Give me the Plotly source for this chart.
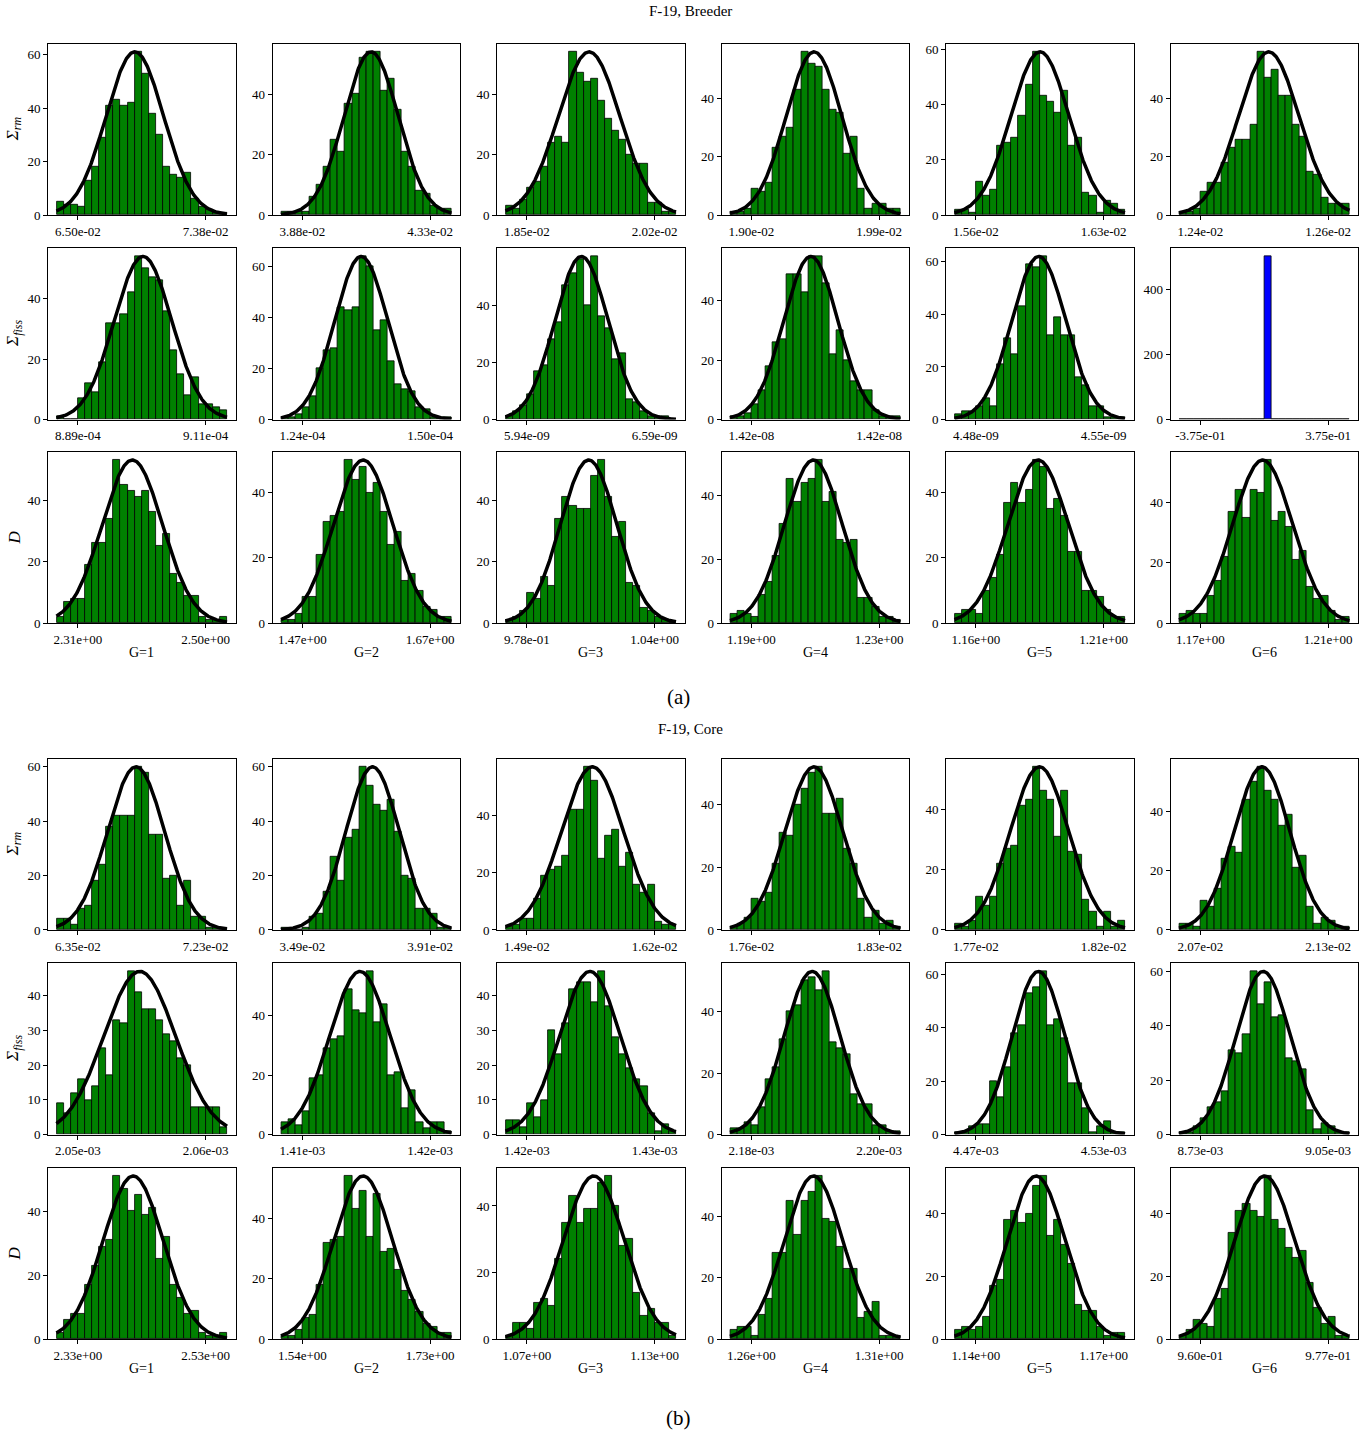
import numpy as np
import plotly.graph_objects as go

N_BINS = 24
GROUPS = ["G=1", "G=2", "G=3", "G=4", "G=5", "G=6"]

# ---- F-19, Breeder: histogram counts per energy group ----
breeder_sigma_rm = [
    [5, 4, 4, 3, 13, 18, 29, 41, 43, 41, 42, 61, 53, 38, 30, 18, 15, 14, 16, 6, 3, 2, 1, 1],
    [1, 1, 1, 1, 6, 10, 16, 25, 21, 37, 40, 52, 54, 54, 41, 45, 35, 21, 16, 8, 7, 3, 2, 2],
    [3, 2, 5, 9, 11, 16, 24, 26, 24, 54, 47, 44, 45, 38, 32, 28, 25, 20, 17, 17, 4, 4, 1, 1],
    [1, 1, 2, 9, 8, 11, 23, 27, 30, 43, 56, 52, 51, 43, 36, 35, 21, 27, 9, 2, 4, 4, 2, 2],
    [2, 2, 1, 12, 7, 9, 25, 26, 28, 36, 47, 59, 43, 41, 37, 45, 25, 28, 8, 7, 1, 5, 4, 2],
    [1, 1, 2, 8, 11, 11, 18, 23, 26, 26, 31, 56, 47, 50, 41, 41, 31, 27, 15, 14, 6, 4, 4, 4],
]
breeder_sigma_fiss = [
    [1, 0, 0, 7, 12, 9, 19, 32, 32, 35, 42, 54, 50, 47, 46, 36, 23, 15, 8, 14, 5, 5, 4, 3],
    [1, 1, 2, 5, 9, 20, 27, 28, 44, 43, 44, 64, 60, 35, 39, 23, 14, 12, 11, 5, 4, 1, 1, 1],
    [1, 3, 5, 9, 17, 19, 28, 34, 47, 51, 56, 40, 57, 36, 32, 21, 23, 7, 6, 3, 1, 1, 1, 0],
    [1, 1, 2, 5, 10, 18, 26, 27, 49, 49, 43, 55, 55, 46, 22, 30, 20, 13, 10, 10, 3, 1, 1, 1],
    [2, 3, 3, 5, 8, 5, 21, 31, 25, 43, 59, 58, 62, 32, 39, 32, 32, 16, 13, 5, 5, 1, 1, 1],
    [0, 0, 0, 0, 0, 0, 0, 0, 0, 0, 0, 0, 500, 0, 0, 0, 0, 0, 0, 0, 0, 0, 0, 0],
]
breeder_d = [
    [2, 7, 8, 8, 19, 26, 26, 34, 53, 45, 43, 41, 43, 36, 25, 29, 16, 13, 9, 9, 2, 1, 1, 2],
    [1, 1, 3, 8, 8, 21, 31, 33, 34, 50, 44, 48, 40, 43, 34, 24, 28, 13, 15, 10, 5, 4, 2, 2],
    [1, 2, 4, 10, 8, 15, 12, 34, 41, 38, 37, 37, 48, 53, 41, 28, 33, 13, 12, 5, 4, 2, 1, 0],
    [3, 4, 3, 2, 9, 13, 21, 31, 45, 38, 44, 45, 51, 38, 41, 26, 25, 26, 8, 8, 5, 2, 2, 1],
    [3, 4, 4, 3, 10, 14, 21, 37, 43, 37, 41, 50, 48, 35, 38, 33, 22, 22, 10, 10, 8, 4, 2, 2],
    [3, 4, 3, 3, 9, 14, 22, 37, 44, 35, 44, 43, 54, 34, 37, 32, 21, 24, 12, 8, 9, 4, 1, 2],
]

# ---- F-19, Core ----
core_sigma_rm = [
    [4, 4, 2, 8, 9, 18, 24, 38, 42, 42, 42, 60, 58, 35, 35, 19, 20, 9, 18, 5, 5, 1, 1, 1],
    [1, 1, 0, 1, 5, 6, 14, 27, 18, 34, 37, 60, 53, 46, 44, 48, 36, 20, 19, 8, 8, 6, 1, 1],
    [1, 2, 4, 4, 11, 19, 21, 22, 26, 42, 42, 57, 52, 25, 33, 35, 22, 27, 16, 13, 16, 3, 2, 2],
    [1, 2, 4, 10, 9, 12, 21, 31, 30, 40, 45, 50, 52, 37, 37, 42, 26, 21, 10, 4, 6, 2, 3, 1],
    [2, 1, 3, 11, 8, 11, 22, 27, 28, 41, 43, 54, 46, 43, 31, 46, 26, 25, 10, 6, 1, 6, 1, 3],
    [2, 2, 1, 10, 8, 14, 24, 28, 26, 44, 50, 55, 47, 44, 35, 39, 21, 25, 8, 2, 4, 3, 1, 1],
]
core_sigma_fiss = [
    [9, 6, 12, 16, 10, 14, 25, 17, 33, 32, 47, 41, 36, 36, 33, 29, 27, 22, 20, 8, 8, 8, 8, 2],
    [4, 5, 3, 8, 19, 20, 29, 32, 33, 49, 42, 41, 55, 38, 44, 20, 21, 9, 15, 4, 2, 4, 4, 1],
    [4, 4, 2, 9, 5, 10, 30, 23, 32, 42, 44, 44, 38, 47, 37, 28, 23, 19, 16, 14, 6, 1, 3, 1],
    [2, 2, 4, 3, 9, 18, 22, 31, 40, 42, 50, 51, 47, 53, 30, 28, 26, 13, 10, 10, 3, 3, 1, 1],
    [1, 1, 3, 4, 4, 20, 14, 25, 38, 41, 53, 55, 61, 41, 43, 36, 19, 19, 10, 1, 3, 5, 1, 1],
    [1, 1, 3, 6, 10, 12, 16, 31, 30, 37, 60, 48, 56, 43, 44, 28, 27, 24, 9, 2, 4, 3, 1, 1],
]
core_d = [
    [2, 6, 8, 8, 17, 23, 29, 31, 51, 47, 40, 45, 39, 41, 25, 32, 17, 13, 8, 9, 2, 1, 1, 2],
    [1, 1, 3, 7, 8, 18, 32, 33, 34, 54, 43, 49, 34, 48, 29, 30, 23, 16, 13, 9, 5, 4, 2, 2],
    [1, 5, 5, 3, 11, 12, 10, 24, 35, 43, 35, 39, 39, 47, 49, 40, 28, 30, 14, 7, 9, 5, 5, 1],
    [3, 4, 4, 1, 8, 13, 28, 28, 45, 34, 45, 48, 53, 39, 38, 30, 23, 23, 7, 9, 12, 1, 1, 1],
    [3, 4, 3, 4, 7, 17, 19, 38, 41, 37, 40, 49, 52, 33, 38, 30, 24, 11, 9, 9, 4, 1, 2, 2],
    [1, 3, 6, 5, 4, 13, 16, 34, 41, 43, 41, 39, 52, 38, 35, 29, 26, 28, 18, 10, 5, 7, 1, 1],
]

# ---- x tick values (sit at 1/8 and 7/8 of each histogram's range) ----
breeder_sigma_rm_ticks = [(6.50e-2, 7.38e-2), (3.88e-2, 4.33e-2), (1.85e-2, 2.02e-2),
                          (1.90e-2, 1.99e-2), (1.56e-2, 1.63e-2), (1.24e-2, 1.26e-2)]
breeder_sigma_fiss_ticks = [(8.89e-4, 9.11e-4), (1.24e-4, 1.50e-4), (5.94e-9, 6.59e-9),
                            (1.4176e-8, 1.4224e-8), (4.48e-9, 4.55e-9), (-3.75e-1, 3.75e-1)]
breeder_d_ticks = [(2.31, 2.50), (1.47, 1.67), (0.978, 1.04),
                   (1.19, 1.23), (1.16, 1.21), (1.17, 1.21)]
core_sigma_rm_ticks = [(6.35e-2, 7.23e-2), (3.49e-2, 3.91e-2), (1.49e-2, 1.62e-2),
                       (1.76e-2, 1.83e-2), (1.77e-2, 1.82e-2), (2.07e-2, 2.13e-2)]
core_sigma_fiss_ticks = [(2.05e-3, 2.06e-3), (1.41e-3, 1.42e-3), (1.42e-3, 1.43e-3),
                         (2.18e-3, 2.20e-3), (4.47e-3, 4.53e-3), (8.73e-3, 9.05e-3)]
core_d_ticks = [(2.33, 2.53), (1.54, 1.73), (1.07, 1.13),
                (1.26, 1.31), (1.14, 1.17), (0.960, 0.977)]

ROW_LABELS = ["<i>Σ<sub>rm</sub></i>", "<i>Σ<sub>fiss</sub></i>", "<i>D</i>"]

# ---- page geometry (pixels) ----
W, H = 1364, 1437
COL_X0, COL_STEP, BOX_W = 48.0, 224.5, 187.5
BOX_H = 172.5
BLOCKS = [
    dict(title="F-19, Breeder", caption="(a)", title_y=9, caption_y=700,
         row_tops=[42, 248, 453], glabel_y=655,
         data=[(breeder_sigma_rm, breeder_sigma_rm_ticks),
               (breeder_sigma_fiss, breeder_sigma_fiss_ticks),
               (breeder_d, breeder_d_ticks)]),
    dict(title="F-19, Core", caption="(b)", title_y=732, caption_y=1426,
         row_tops=[762, 968, 1174], glabel_y=1376,
         data=[(core_sigma_rm, core_sigma_rm_ticks),
               (core_sigma_fiss, core_sigma_fiss_ticks),
               (core_d, core_d_ticks)]),
]

FONT = "Liberation Serif"
fig = go.Figure()
layout = {}
annotations = []


def px_x(x):
    return x / W


def px_y(y):
    return 1 - y / H


def label(text, x, y, size, angle=0):
    return dict(text=text, x=px_x(x), y=px_y(y), xref="paper", yref="paper",
                xanchor="center", yanchor="middle", showarrow=False, textangle=angle,
                font=dict(size=size, family=FONT, color="black"))


panel = 0
for block in BLOCKS:
    annotations.append(label(block["title"], W / 2 + 8, block["title_y"], 15))
    annotations.append(label(block["caption"], 678, block["caption_y"], 21))
    for r, (rows, tick_pairs) in enumerate(block["data"]):
        top = block["row_tops"][r]
        annotations.append(label(ROW_LABELS[r], 14, top + BOX_H / 2, 17, -90))
        for c in range(6):
            panel += 1
            sfx = "" if panel == 1 else str(panel)
            counts = np.asarray(rows[c], dtype=float)
            t1, t2 = tick_pairs[c]
            span = (t2 - t1) / 0.75
            lo, hi = t1 - span / 8, t2 + span / 8
            edges = np.linspace(lo, hi, N_BINS + 1)
            centers = 0.5 * (edges[:-1] + edges[1:])
            width = edges[1] - edges[0]
            n_tot = counts.sum()
            single = np.count_nonzero(counts) == 1

            fig.add_trace(go.Bar(
                x=centers, y=counts, width=width,
                marker=dict(color="blue" if single else "green",
                            line=dict(color="black", width=0.8)),
                xaxis="x" + sfx, yaxis="y" + sfx, showlegend=False,
                hoverinfo="x+y"))

            peak = counts.max()
            if not single:
                # Gaussian with the sample mean / spread, scaled to the tallest bin
                mean = np.sum(counts * centers) / n_tot
                var = np.sum(counts * (centers - mean) ** 2) / n_tot + width ** 2 / 12
                sd = np.sqrt(var)
                xs = np.linspace(lo, hi, 300)
                ys = peak * np.exp(-0.5 * ((xs - mean) / sd) ** 2)
                fig.add_trace(go.Scatter(
                    x=xs, y=ys, mode="lines", line=dict(color="black", width=3.5),
                    xaxis="x" + sfx, yaxis="y" + sfx, showlegend=False, hoverinfo="skip"))

            ymax = peak * 1.05
            dtick = 200 if single else (10 if ymax < 50 else 20)
            x0 = COL_X0 + c * COL_STEP
            layout["xaxis" + sfx] = dict(
                domain=[px_x(x0), px_x(x0 + BOX_W)], anchor="y" + sfx,
                range=[lo - 0.05 * (hi - lo), hi + 0.05 * (hi - lo)],
                tickvals=[t1, t2], ticktext=[f"{t1:.2e}", f"{t2:.2e}"],
                showgrid=False, zeroline=False, showline=True, mirror=True,
                linecolor="black", linewidth=1, ticks="outside", ticklen=4,
                tickcolor="black", tickfont=dict(size=13, family=FONT, color="black"),
                fixedrange=True)
            layout["yaxis" + sfx] = dict(
                domain=[px_y(top + BOX_H), px_y(top)], anchor="x" + sfx,
                range=[0, ymax], tick0=0, dtick=dtick,
                showgrid=False, zeroline=False, showline=True, mirror=True,
                linecolor="black", linewidth=1, ticks="outside", ticklen=4,
                tickcolor="black", tickfont=dict(size=13, family=FONT, color="black"),
                fixedrange=True)
            if r == 2:
                annotations.append(label(GROUPS[c], x0 + BOX_W / 2, block["glabel_y"], 14))

fig.update_layout(**layout)
fig.update_layout(width=W, height=H, margin=dict(l=0, r=0, t=0, b=0),
                  paper_bgcolor="white", plot_bgcolor="white",
                  bargap=0, annotations=annotations, showlegend=False)
fig.write_html("out.html")
